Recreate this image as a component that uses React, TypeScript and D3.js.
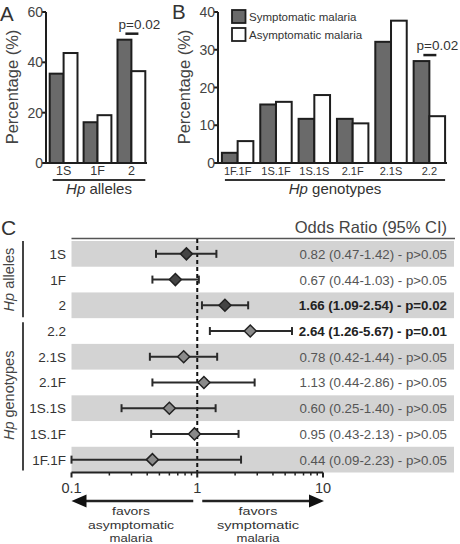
import React from "react";
import * as d3 from "d3";

// ---------- Data ----------
const alleleCats = ["1S", "1F", "2"];
const alleleSym = [35.5, 16.2, 49.0];
const alleleAsym = [43.7, 19.0, 36.5];

const genoCats = ["1F.1F", "1S.1F", "1S.1S", "2.1F", "2.1S", "2.2"];
const genoSym = [2.7, 15.5, 11.7, 11.7, 32.1, 27.0];
const genoAsym = [5.8, 16.2, 18.0, 10.5, 37.7, 12.4];

const aTicks = [0, 20, 40, 60];
const bTicks = [0, 10, 20, 30, 40];

const seriesNames = ["Symptomatic malaria", "Asymptomatic malaria"];

const orLabels = ["1S", "1F", "2", "2.2", "2.1S", "2.1F", "1S.1S", "1S.1F", "1F.1F"];
const orGroups = ["allele", "allele", "allele", "geno", "geno", "geno", "geno", "geno", "geno"];
const orValues = [0.82, 0.67, 1.66, 2.64, 0.78, 1.13, 0.6, 0.95, 0.44];
const orLower = [0.47, 0.44, 1.09, 1.26, 0.42, 0.44, 0.25, 0.43, 0.09];
const orUpper = [1.42, 1.03, 2.54, 5.67, 1.44, 2.86, 1.4, 2.13, 2.23];
const orP = ["p>0.05", "p>0.05", "p=0.02", "p=0.01", "p>0.05", "p>0.05", "p>0.05", "p>0.05", "p>0.05"];
const orTicks = [0.1, 1, 10];

const favorLeft = ["favors", "asymptomatic", "malaria"];
const favorRight = ["favors", "symptomatic", "malaria"];

const FONT = "'Liberation Sans', Arial, Helvetica, sans-serif";
const DARK = "#6a6a6a";
const STROKE = "#1e1e1e";

function BarPanel({
  cats, sym, asym, ticks, yMax, x0, x1, letter, letterY, labelSize, groupLabel, pIndex,
}: any) {
  const y = d3.scaleLinear().domain([0, yMax]).range([163, 12]);
  const xb = d3.scaleBand().domain(cats).range([x0 + 2, x1]).paddingInner(0.18).paddingOuter(0.05);
  const xs = d3.scaleBand().domain(["s", "a"]).range([0, xb.bandwidth()]);
  const pc = (xb(cats[pIndex]) as number) + xb.bandwidth() / 2;
  const lineL = (xb(cats[0]) as number) + 3;
  const lineR = (xb(cats[cats.length - 1]) as number) + xb.bandwidth();
  const pTop = y(Math.max(sym[pIndex], asym[pIndex]));
  return (
    <g>
      <text x={x0 - 46} y={letterY} fontSize={20.5} fontFamily={FONT} fill="#333">{letter}</text>
      <text
        transform={`translate(${x0 - 28},87) rotate(-90)`}
        textAnchor="middle" fontSize={16.5} fontFamily={FONT} fill="#444"
      >Percentage (%)</text>
      {cats.map((c: string, i: number) => (
        <g key={c}>
          <rect x={(xb(c) as number) + (xs("s") as number)} y={y(sym[i])} width={xs.bandwidth()}
            height={y(0) - y(sym[i])} fill={DARK} stroke={STROKE} strokeWidth={2} />
          <rect x={(xb(c) as number) + (xs("a") as number)} y={y(asym[i])} width={xs.bandwidth()}
            height={y(0) - y(asym[i])} fill="#fff" stroke={STROKE} strokeWidth={2} />
          <text x={(xb(c) as number) + xb.bandwidth() / 2} y={174.5} textAnchor="middle"
            fontSize={labelSize} fontFamily={FONT} fill="#333">{c}</text>
        </g>
      ))}
      <line x1={x0} x2={x0} y1={y(yMax)} y2={y(0)} stroke={STROKE} strokeWidth={2} />
      <line x1={x0} x2={x1} y1={y(0)} y2={y(0)} stroke={STROKE} strokeWidth={2} />
      {ticks.map((t: number) => (
        <g key={t}>
          <line x1={x0 - 4} x2={x0} y1={y(t)} y2={y(t)} stroke={STROKE} strokeWidth={2} />
          <text x={x0 - 3} y={y(t) + 5} textAnchor="end" fontSize={14} fontFamily={FONT} fill="#444">{t}</text>
        </g>
      ))}
      <line x1={lineL} x2={lineR} y1={180} y2={180} stroke="#333" strokeWidth={2} />
      <text x={(lineL + lineR) / 2} y={194} textAnchor="middle" fontSize={15} fontFamily={FONT} fill="#333">
        <tspan fontStyle="italic">Hp</tspan> {groupLabel}
      </text>
      <line x1={pc - 6} x2={pc + 7} y1={pTop - 6} y2={pTop - 6} stroke={STROKE} strokeWidth={2.5} />
      <text x={pc + 8} y={pTop - 11} textAnchor="middle"
        fontSize={13.5} fontFamily={FONT} fill="#333">p=0.02</text>
    </g>
  );
}

function Forest() {
  const x = d3.scaleLog().domain([0.1, 10]).range([71.5, 323]).clamp(true);
  const y = d3.scaleBand().domain(orLabels).range([241, 472.5]);
  const bw = y.bandwidth();
  const cy = (l: string) => (y(l) as number) + bw / 2;
  const minor: number[] = [];
  [0.1, 1].forEach((d) => { for (let k = 2; k <= 9; k++) minor.push(d * k); });
  const axisY = 472.5;
  const arrowY = 501;
  const alleleTop = y(orLabels[0]) as number;
  const alleleBot = (y(orLabels[2]) as number) + bw;
  const genoTop = (y(orLabels[3]) as number);
  const genoBot = (y(orLabels[8]) as number) + bw;
  const leftLens = [38, 86, 43];
  const rightLens = [39, 82, 43];
  return (
    <g fontFamily={FONT}>
      <text x={1} y={235} fontSize={21} fill="#333">C</text>
      <text x={447} y={233} textAnchor="end" fontSize={16.5} fill="#444">Odds Ratio (95% CI)</text>
      {orLabels.map((l, i) =>
        i % 2 === 0 ? (
          <rect key={"b" + l} x={x(0.1)} y={y(l)} width={454 - x(0.1)} height={bw} fill="#d3d3d3" />
        ) : null
      )}
      <line x1={x(0.1)} x2={455} y1={238.5} y2={238.5} stroke="#555" strokeWidth={1.5} />
      <line x1={x(1)} x2={x(1)} y1={239} y2={axisY} stroke="#111" strokeWidth={2} strokeDasharray="4,3" />
      {orLabels.map((l, i) => {
        const c = cy(l);
        const sig = orP[i] !== "p>0.05";
        const fill = orGroups[i] === "allele" ? "#444" : "#8a8a8a";
        const xv = x(orValues[i]);
        const r = 6;
        return (
          <g key={l}>
            <text x={66} y={c + 5} textAnchor="end" fontSize={13.5} fill="#333">{l}</text>
            <line x1={x(orLower[i])} x2={x(orUpper[i])} y1={c} y2={c} stroke="#2a2a2a" strokeWidth={2} />
            <line x1={x(orLower[i])} x2={x(orLower[i])} y1={c - 4} y2={c + 4} stroke="#2a2a2a" strokeWidth={2} />
            <line x1={x(orUpper[i])} x2={x(orUpper[i])} y1={c - 4} y2={c + 4} stroke="#2a2a2a" strokeWidth={2} />
            <path d={`M${xv - r},${c}L${xv},${c - r}L${xv + r},${c}L${xv},${c + r}Z`} fill={fill}
              stroke="#222" strokeWidth={1.5} />
            <text x={447} y={c + 5} textAnchor="end" fontSize={13.3}
              fontWeight={sig ? "bold" : "normal"} fill={sig ? "#222" : "#555"}>
              {`${orValues[i].toFixed(2)} (${orLower[i].toFixed(2)}-${orUpper[i].toFixed(2)}) - ${orP[i]}`}
            </text>
          </g>
        );
      })}
      {/* group brackets */}
      <line x1={23} x2={23} y1={alleleTop} y2={alleleBot - 1} stroke="#444" strokeWidth={2} />
      <line x1={23} x2={23} y1={genoTop + 4} y2={genoBot - 2} stroke="#444" strokeWidth={2} />
      <text transform={`translate(14,${(alleleTop + alleleBot) / 2}) rotate(-90)`} textAnchor="middle"
        fontSize={14.5} fill="#444"><tspan fontStyle="italic">Hp</tspan> alleles</text>
      <text transform={`translate(14,${(genoTop + genoBot) / 2}) rotate(-90)`} textAnchor="middle"
        fontSize={14.5} fill="#444"><tspan fontStyle="italic">Hp</tspan> genotypes</text>
      {/* axis */}
      <line x1={x(0.1)} x2={x(10)} y1={axisY} y2={axisY} stroke="#222" strokeWidth={2} />
      {orTicks.map((t) => (
        <g key={t}>
          <line x1={x(t)} x2={x(t)} y1={axisY} y2={axisY + 5} stroke="#222" strokeWidth={2} />
          <text x={x(t)} y={493} textAnchor="middle" fontSize={14.5} fill="#333">{t}</text>
        </g>
      ))}
      {minor.map((t) => (
        <line key={t} x1={x(t)} x2={x(t)} y1={axisY} y2={axisY + 3} stroke="#222" strokeWidth={1.5} />
      ))}
      {/* arrows */}
      <line x1={x(1) - 4} x2={x(0.1) + 12} y1={arrowY} y2={arrowY} stroke="#222" strokeWidth={2.5} />
      <path d={`M${x(0.1)},${arrowY}L${x(0.1) + 15},${arrowY - 6.5}L${x(0.1) + 15},${arrowY + 6.5}Z`} fill="#111" />
      <line x1={x(1) + 5} x2={x(10) - 12} y1={arrowY} y2={arrowY} stroke="#222" strokeWidth={2.5} />
      <path d={`M${x(10) + 1},${arrowY}L${x(10) - 14},${arrowY - 6.5}L${x(10) - 14},${arrowY + 6.5}Z`} fill="#111" />
      <g fontSize={11.5} fill="#333" textAnchor="middle">
        {favorLeft.map((t, i) => (
          <text key={"l" + i} x={131} y={515 + i * 13.5} textLength={leftLens[i]} lengthAdjust="spacingAndGlyphs">{t}</text>
        ))}
        {favorRight.map((t, i) => (
          <text key={"r" + i} x={258} y={515 + i * 13.5} textLength={rightLens[i]} lengthAdjust="spacingAndGlyphs">{t}</text>
        ))}
      </g>
    </g>
  );
}

export default function App() {
  return (
    <svg width={460} height={544} style={{ position: "absolute", left: 0, top: 0, background: "#fff" }}>
      <rect width={460} height={544} fill="#fff" />
      <BarPanel cats={alleleCats} sym={alleleSym} asym={alleleAsym} ticks={aTicks} yMax={60}
        x0={46} x1={147} letter="A" letterY={21} labelSize={12.5} groupLabel="alleles" pIndex={2} />
      <BarPanel cats={genoCats} sym={genoSym} asym={genoAsym} ticks={bTicks} yMax={40}
        x0={218} x1={447} letter="B" letterY={19} labelSize={11} groupLabel="genotypes" pIndex={5} />
      {/* legend */}
      <g fontFamily={FONT}>
        {seriesNames.map((s, i) => (
          <g key={s}>
            <rect x={232} y={10 + i * 18} width={13.5} height={13} fill={i === 0 ? DARK : "#fff"}
              stroke={STROKE} strokeWidth={1.8} />
            <text x={249} y={21 + i * 18} fontSize={11.5} fill="#333">{s}</text>
          </g>
        ))}
      </g>
      <Forest />
    </svg>
  );
}
